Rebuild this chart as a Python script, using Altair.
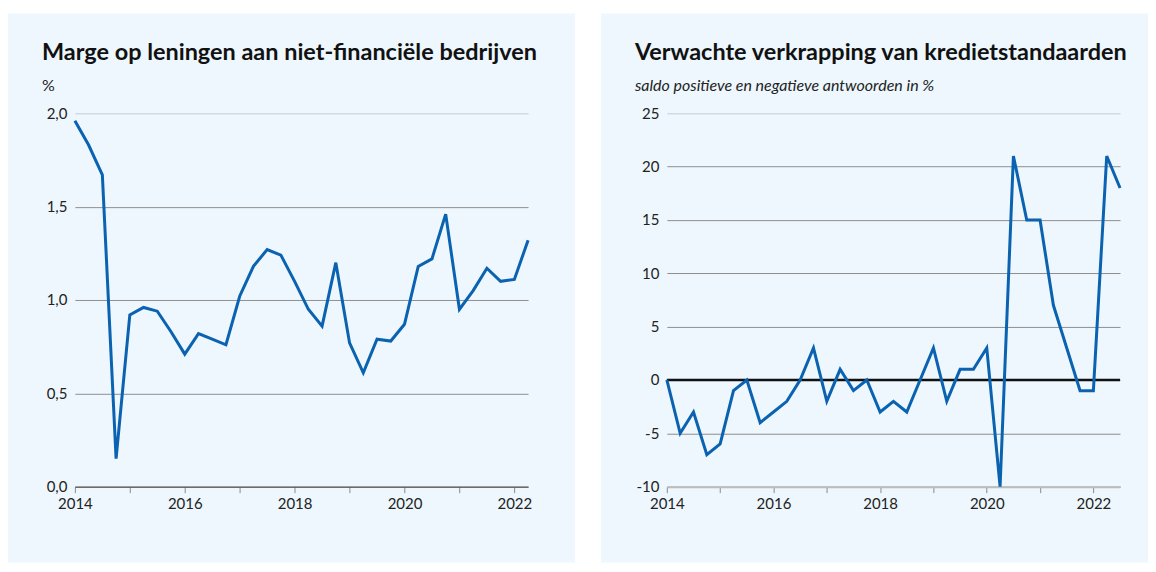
import altair as alt
import pandas as pd

# ---------------- data ----------------
years_left = [2014, 2015, 2016, 2017, 2018, 2019, 2020, 2021, 2022]
quarters_left = [y + q / 4 for y in range(2014, 2023) for q in range(4)][:34]
marge = [1.96, 1.83, 1.67, 0.15, 0.92, 0.96, 0.94, 0.83, 0.71, 0.82, 0.79, 0.76,
         1.02, 1.18, 1.27, 1.24, 1.10, 0.95, 0.86, 1.20, 0.77, 0.61, 0.79, 0.78,
         0.87, 1.18, 1.22, 1.46, 0.95, 1.05, 1.17, 1.10, 1.11, 1.32]

quarters_right = [y + q / 4 for y in range(2014, 2023) for q in range(4)][:35]
verkrapping = [0, -5, -3, -7, -6, -1, 0, -4, -3, -2, 0, 3, -2, 1, -1, 0, -3, -2,
               -3, 0, 3, -2, 1, 1, 3, -10, 21, 15, 15, 7, 3, -1, -1, 21, 18]

left_y_ticks = [0, 0.5, 1.0, 1.5, 2.0]
right_y_ticks = [-10, -5, 0, 5, 10, 15, 20, 25]
x_ticks = years_left

left_title = "Marge op leningen aan niet-financiële bedrijven"
left_sub = "%"
right_title = "Verwachte verkrapping van kredietstandaarden"
right_sub = "saldo positieve en negatieve antwoorden in %"

zero_line = pd.DataFrame({"x": [2014], "x2": [2022.5], "y": [0]})

# ---------------- style ----------------
BG = "#edf7fd"
BLUE = "#0a62b0"
FONT = "Lato"
H = 550
PLOT_TOP, PLOT_BOTTOM = 100, 474

def x_axis(domain_color, domain_width):
    return alt.Axis(
        values=x_ticks, grid=False, title=None, orient="bottom",
        offset=-(H - PLOT_BOTTOM), domainColor=domain_color, domainWidth=domain_width,
        tickColor="#8c8c8c", tickSize=6, tickWidth=1, labelPadding=4,
        labelExpr="datum.value % 2 == 0 ? toString(datum.value) : ''",
        labelFont=FONT, labelFontSize=15, labelColor="#222", labelFlush=False,
    )

def y_axis(values, top, label_expr, off):
    return alt.Axis(
        values=values, title=None, domain=False, ticks=False, offset=-off,
        labelPadding=8, labelExpr=label_expr, labelFont=FONT, labelFontSize=15,
        labelColor="#222",
        gridColor=alt.condition(f"datum.value == {top}", alt.value("#c3ccd4"), alt.value("#8f8f8f")),
        gridWidth=1,
    )

def title(text, sub, style):
    return alt.TitleParams(
        text=text, subtitle=sub, anchor="start", frame="group", orient="top",
        font=FONT, fontSize=23.5, fontWeight="bold", color="#111",
        subtitleFont=FONT, subtitleFontSize=16, subtitleFontStyle=style,
        subtitleColor="#222", subtitlePadding=14, dx=34, dy=85,
    )

# ---------------- left panel ----------------
df_left = pd.DataFrame({"t": quarters_left, "v": marge})
left = alt.Chart(df_left).mark_line(color=BLUE, strokeWidth=3).encode(
    x=alt.X("t:Q", scale=alt.Scale(domain=[2014, 2022.25], range=[67, 521], nice=False, zero=False),
            axis=x_axis("#444444", 1)),
    y=alt.Y("v:Q", scale=alt.Scale(domain=[0, 2], range=[PLOT_BOTTOM, PLOT_TOP], nice=False),
            axis=y_axis(left_y_ticks, 2, "replace(format(datum.value, '.1f'), '.', ',')", 67)),
).properties(width=568, height=H, title=title(left_title, left_sub, "normal"))

# ---------------- right panel ----------------
df_right = pd.DataFrame({"t": quarters_right, "v": verkrapping})
xs_r = alt.Scale(domain=[2014, 2022.5], range=[66, 520], nice=False, zero=False)
ys_r = alt.Scale(domain=[-10, 25], range=[PLOT_BOTTOM, PLOT_TOP], nice=False)
r_line = alt.Chart(df_right).mark_line(color=BLUE, strokeWidth=3).encode(
    x=alt.X("t:Q", scale=xs_r, axis=x_axis("#bcbcbc", 2)),
    y=alt.Y("v:Q", scale=ys_r, axis=y_axis(right_y_ticks, 25, "toString(datum.value)", 66)),
)
r_zero = alt.Chart(zero_line).mark_rule(color="#111", strokeWidth=2.5).encode(
    x=alt.X("x:Q"), x2="x2:Q", y=alt.Y("y:Q"),
)
right = alt.layer(r_zero, r_line).properties(
    width=548, height=H, title=title(right_title, right_sub, "italic"))

chart = alt.hconcat(left, right, spacing=26).properties(
    padding={"top": 5, "left": 0, "right": 0, "bottom": 0}, background="white"
).configure_view(fill=BG, stroke=None)

chart.save("out.html", embed_options={"renderer": "svg", "actions": False})
